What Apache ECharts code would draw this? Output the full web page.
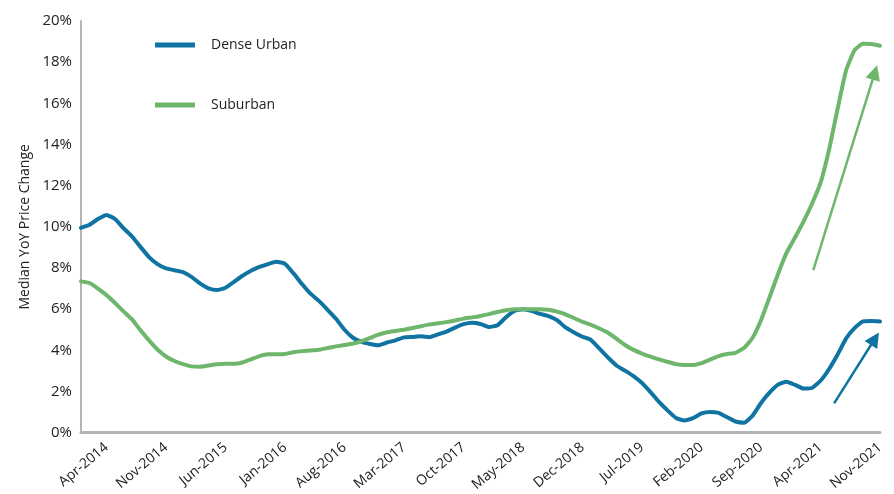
<!DOCTYPE html>
<html>
<head>
<meta charset="utf-8">
<script src="https://cdn.jsdelivr.net/npm/echarts@6/dist/echarts.min.js"></script>
<style>
  html, body { margin: 0; padding: 0; background: #fff; }
  #chart { width: 894px; height: 494px; }
</style>
</head>
<body>
<div id="chart"></div>
<script>
// month labels Jan-2014 .. Nov-2021
const monthNames = ['Jan', 'Feb', 'Mar', 'Apr', 'May', 'Jun', 'Jul', 'Aug', 'Sep', 'Oct', 'Nov', 'Dec'];
const months = [];
for (let y = 2014, m = 0; y < 2021 || (y === 2021 && m <= 10); m++) {
  if (m === 12) { m = 0; y++; }
  months.push(monthNames[m] + '-' + y);
}
// every 7th month is labelled, starting at Apr-2014
const firstLabel = 3;
const labelStep = 7;

const seriesNames = ['Dense Urban', 'Suburban'];

const denseUrban = [
  9.95, 10.1, 10.38, 10.58, 10.38, 9.93, 9.53, 9.02, 8.53, 8.19,
  7.98, 7.89, 7.8, 7.57, 7.25, 7.01, 6.93, 7.04, 7.33, 7.62,
  7.87, 8.05, 8.19, 8.3, 8.2, 7.74, 7.22, 6.75, 6.4, 5.97,
  5.53, 5.0, 4.61, 4.41, 4.31, 4.25, 4.38, 4.48, 4.63, 4.65,
  4.68, 4.64, 4.77, 4.91, 5.1, 5.27, 5.34, 5.28, 5.13, 5.22,
  5.61, 5.91, 6.0, 5.92, 5.77, 5.66, 5.47, 5.11, 4.87, 4.66,
  4.5, 4.08, 3.65, 3.26, 3.01, 2.74, 2.41, 1.97, 1.49, 1.08,
  0.71, 0.59, 0.7, 0.93, 1.0, 0.96, 0.75, 0.54, 0.48, 0.82,
  1.44, 1.94, 2.33, 2.47, 2.32, 2.14, 2.17, 2.52, 3.08, 3.78,
  4.57, 5.08, 5.4, 5.42, 5.4
];

const suburban = [
  7.35, 7.27, 7.0, 6.68, 6.3, 5.89, 5.5, 4.97, 4.48, 4.04,
  3.7, 3.48, 3.33, 3.22, 3.2, 3.26, 3.32, 3.35, 3.35, 3.41,
  3.56, 3.72, 3.81, 3.81, 3.82, 3.91, 3.96, 3.99, 4.03, 4.11,
  4.19, 4.26, 4.33, 4.44, 4.6, 4.76, 4.88, 4.94, 5.0, 5.08,
  5.17, 5.26, 5.31, 5.37, 5.45, 5.54, 5.6, 5.67, 5.76, 5.86,
  5.95, 5.99, 6.0, 6.0, 6.0, 5.97, 5.88, 5.75, 5.57, 5.38,
  5.24, 5.06, 4.85, 4.56, 4.26, 4.02, 3.84, 3.69, 3.56, 3.44,
  3.33, 3.29, 3.29, 3.38, 3.55, 3.72, 3.82, 3.88, 4.11, 4.6,
  5.46, 6.57, 7.7, 8.73, 9.48, 10.25, 11.12, 12.13, 13.73, 15.71,
  17.58, 18.58, 18.9, 18.88, 18.8
];

// annotation arrows: [start month index, start %, end month index, end %]
const blueArrow = [88.6, 1.42, 93.4, 4.56];
const greenArrow = [86.15, 7.89, 93.4, 17.5];

const blue = '#0f74a1';
const green = '#6db66b';
const fontFamily = '"Open Sans", "Noto Sans", sans-serif';

const chart = echarts.init(document.getElementById('chart'));

const arrowLine = (a, color, width) => ({
  silent: true,
  symbol: ['none', 'triangle'],
  symbolSize: 15,
  label: { show: false },
  lineStyle: { color, width, type: 'solid', opacity: 1 },
  itemStyle: { color },
  emphasis: { disabled: true },
  animation: false,
  data: [[{ coord: [a[0], a[1]] }, { coord: [a[2], a[3]] }]]
});

chart.setOption({
  animation: false,
  grid: { left: 81, right: 14, top: 21, bottom: 59 },
  legend: {
    orient: 'vertical',
    left: 150,
    top: 33,
    itemGap: 46,
    itemWidth: 40,
    itemHeight: 5,
    icon: 'rect',
    data: seriesNames,
    textStyle: { fontFamily, fontSize: 14, color: '#222', padding: [0, 0, 0, 11] }
  },
  xAxis: [
    {
      type: 'category',
      data: months,
      boundaryGap: false,
      axisLine: { lineStyle: { color: '#b5b5b5', width: 3 } },
      axisTick: { show: false },
      axisLabel: {
        interval: (idx) => idx >= firstLabel && (idx - firstLabel) % labelStep === 0,
        rotate: 40,
        margin: 13,
        fontFamily,
        fontSize: 14,
        color: '#222'
      },
      splitLine: { show: false }
    },
    { type: 'value', min: 0, max: months.length - 1, show: false }
  ],
  yAxis: {
    type: 'value',
    min: 0,
    max: 20,
    interval: 2,
    name: 'Median YoY Price Change',
    nameLocation: 'middle',
    nameGap: 45,
    nameTextStyle: { fontFamily, fontSize: 14, color: '#222' },
    axisLine: { show: true, lineStyle: { color: '#b5b5b5', width: 2 } },
    axisTick: { show: false },
    axisLabel: { formatter: '{value}%', fontFamily, fontSize: 15, color: '#222', margin: 9 },
    splitLine: { show: false }
  },
  series: [
    {
      name: seriesNames[0],
      type: 'line',
      data: denseUrban,
      symbol: 'none',
      smooth: 0.15,
      color: blue,
      lineStyle: { width: 4, color: blue, cap: 'round', join: 'round' }
    },
    {
      name: seriesNames[1],
      type: 'line',
      data: suburban,
      symbol: 'none',
      smooth: 0.15,
      color: green,
      lineStyle: { width: 4, color: green, cap: 'round', join: 'round' }
    },
    {
      type: 'line',
      xAxisIndex: 1,
      data: [],
      markLine: arrowLine(blueArrow, blue, 2.5)
    },
    {
      type: 'line',
      xAxisIndex: 1,
      data: [],
      markLine: arrowLine(greenArrow, green, 2.5)
    }
  ]
});
</script>
</body>
</html>
